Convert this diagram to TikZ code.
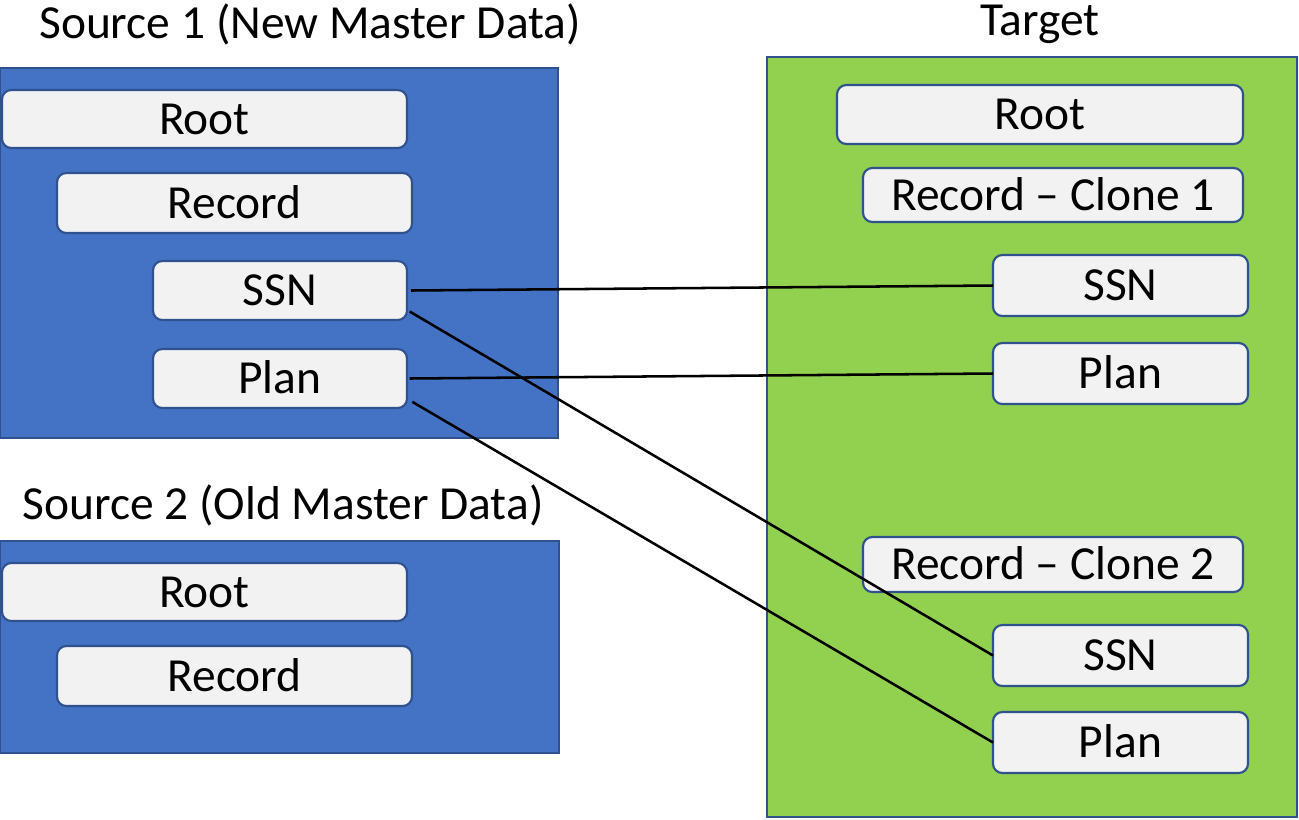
\documentclass[tikz,border=0pt]{standalone}
\usepackage{fontspec}
\setmainfont{Carlito}
\definecolor{boxfill}{HTML}{F2F2F2}
\definecolor{boxline}{HTML}{2F528F}
\definecolor{srcfill}{HTML}{4472C4}
\definecolor{tgtfill}{HTML}{92D050}
\begin{document}
\begin{tikzpicture}[x=0.75pt,y=-0.75pt,
  font=\fontsize{35.6pt}{42pt}\selectfont,
  item/.style 2 args={draw=boxline, fill=boxfill, line width=1.6pt, rounded corners=7pt,
    minimum width=#1*0.75pt, minimum height=#2*0.75pt, inner sep=0pt, outer sep=0pt,
    text height=22.9pt, text depth=0pt},
  container/.style 2 args={draw=boxline, line width=1.2pt, inner sep=0pt, outer sep=0pt,
    minimum width=#1*0.75pt, minimum height=#2*0.75pt},
  title/.style={anchor=base, inner sep=0pt},
  link/.style={draw=black, line width=1.9pt}]
\useasboundingbox (0,0) rectangle (1299,819);
% containers
\node[container={558}{370}, fill=srcfill] (src1) at (279,253) {};
\node[container={559}{212}, fill=srcfill] (src2) at (279.5,647) {};
\node[container={530}{760}, fill=tgtfill] (tgt) at (1032,437) {};
% titles
\node[title] (src1title) at (310,38) {Source 1 (New Master Data)};
\node[title] (src2title) at (283,519) {Source 2 (Old Master Data)};
\node[title] (tgttitle) at (1040,35) {Target};
% source 1 items
\node[item={405}{58}] (s1root) at (204.5,119) {Root};
\node[item={355}{60}] (s1rec) at (234.5,203) {Record};
\node[item={254}{59}] (s1ssn) at (280,290.5) {SSN};
\node[item={254}{59}] (s1plan) at (280,378.5) {Plan};
% source 2 items
\node[item={405}{58}] (s2root) at (204.5,592) {Root};
\node[item={355}{60}] (s2rec) at (234.5,676) {Record};
% target items
\node[item={406}{59}] (troot) at (1040,114.5) {Root};
\node[item={380}{54}] (trec1) at (1053,195) {Record -- Clone 1};
\node[item={255}{61}] (tssn1) at (1120.5,285.5) {SSN};
\node[item={255}{61}] (tplan1) at (1120.5,373.5) {Plan};
\node[item={380}{55}] (trec2) at (1053,564.5) {Record -- Clone 2};
\node[item={255}{61}] (tssn2) at (1120.5,655.5) {SSN};
\node[item={255}{61}] (tplan2) at (1120.5,742.5) {Plan};
% connectors
\draw[link] ([xshift=3pt]s1ssn.east) -- (tssn1.west);
\draw[link] ([xshift=2pt,yshift=-15.75pt]s1ssn.east) -- (tssn2.west);
\draw[link] ([xshift=2pt]s1plan.east) -- (tplan1.west);
\draw[link] ([xshift=4pt,yshift=-17.5pt]s1plan.east) -- (tplan2.west);
\end{tikzpicture}
\end{document}
